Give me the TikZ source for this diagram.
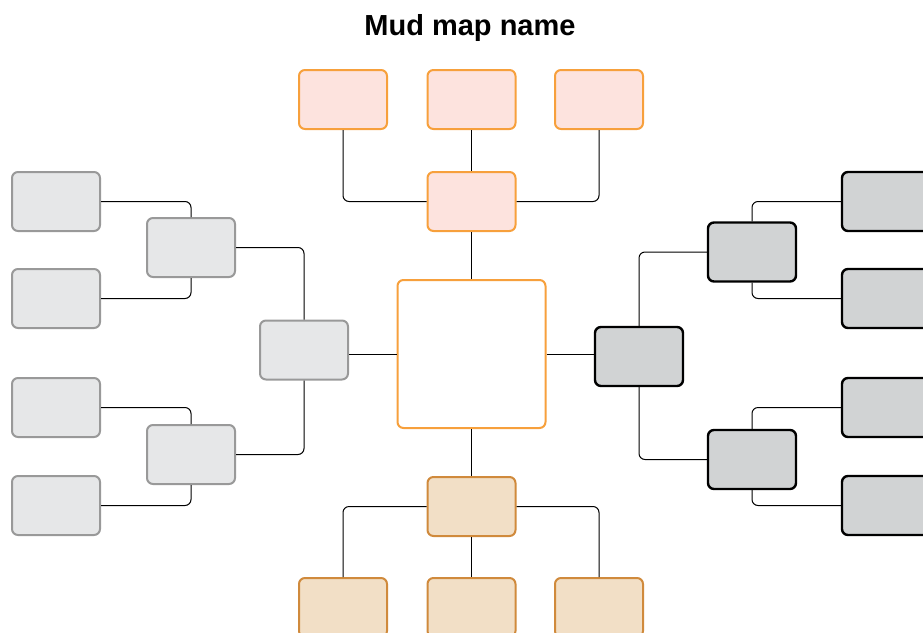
\documentclass[tikz,border=0pt]{standalone}
\usepackage{fontspec}
\setmainfont{Liberation Sans}
\usetikzlibrary{positioning}

\definecolor{peach}{HTML}{FDE3DE}
\definecolor{tan}{HTML}{F2DFC6}
\definecolor{orangeline}{HTML}{F7A03C}
\definecolor{brownline}{HTML}{D08A3C}
\definecolor{lightgrey}{HTML}{E6E7E8}
\definecolor{midgrey}{HTML}{D1D3D4}
\definecolor{greyline}{HTML}{999999}

\begin{document}
\begin{tikzpicture}[
x=1pt, y=-1pt,
box/.style={rectangle, rounded corners=6pt, line width=2pt, minimum width=88pt, minimum height=59pt, inner sep=0pt},
topbox/.style={box, draw=orangeline, fill=peach},
botbox/.style={box, draw=brownline, fill=tan},
leftbox/.style={box, draw=greyline, fill=lightgrey},
rightbox/.style={box, draw=black, fill=midgrey, line width=2.4pt},
link/.style={draw=black, line width=1pt, rounded corners=6pt}
]
\clip (0,0) rectangle (923,632);

\node[font=\bfseries\fontsize{29}{34}\selectfont] (title) at (470,28) {Mud map name};

% centre
\node[box, draw=orangeline, fill=white, minimum width=148pt, minimum height=148pt] (hub) at (471.5,354) {};

% top branch
\node[topbox] (topmid) at (471.5,201.5) {};
\node[topbox] (topa) at (343,99.5) {};
\node[topbox] (topb) at (471.5,99.5) {};
\node[topbox] (topc) at (599,99.5) {};

% bottom branch
\node[botbox] (botmid) at (471.5,506.5) {};
\node[botbox] (bota) at (343,607.5) {};
\node[botbox] (botb) at (471.5,607.5) {};
\node[botbox] (botc) at (599,607.5) {};

% left branch
\node[leftbox] (lroot) at (304,350) {};
\node[leftbox] (lmida) at (191,247.5) {};
\node[leftbox] (lmidb) at (191,454.5) {};
\node[leftbox] (lleafa) at (56,201.5) {};
\node[leftbox] (lleafb) at (56,298.5) {};
\node[leftbox] (lleafc) at (56,407.5) {};
\node[leftbox] (lleafd) at (56,505.5) {};

% right branch
\node[rightbox] (rroot) at (639,356.5) {};
\node[rightbox] (rmida) at (752,252) {};
\node[rightbox] (rmidb) at (752,459.5) {};
\node[rightbox] (rleafa) at (886,201.5) {};
\node[rightbox] (rleafb) at (886,298.5) {};
\node[rightbox] (rleafc) at (886,407.5) {};
\node[rightbox] (rleafd) at (886,505.5) {};

% connectors
\draw[link] (topa.south) |- (topmid.west);
\draw[link] (topc.south) |- (topmid.east);
\draw[link] (topb.south) -- (topmid.north);
\draw[link] (topmid.south) -- (hub.north);

\draw[link] (hub.south) -- (botmid.north);
\draw[link] (botmid.west) -| (bota.north);
\draw[link] (botmid.east) -| (botc.north);
\draw[link] (botmid.south) -- (botb.north);

\draw[link] (lroot.east |- hub.west) -- (hub.west);
\draw[link] (lmida.east) -| (lroot.north);
\draw[link] (lmidb.east) -| (lroot.south);
\draw[link] (lleafa.east) -| (lmida.north);
\draw[link] (lleafb.east) -| (lmida.south);
\draw[link] (lleafc.east) -| (lmidb.north);
\draw[link] (lleafd.east) -| (lmidb.south);

\draw[link] (hub.east) -- (hub.east -| rroot.west);
\draw[link] (rmida.west) -| (rroot.north);
\draw[link] (rmidb.west) -| (rroot.south);
\draw[link] (rmida.north) |- (rleafa.west);
\draw[link] (rmida.south) |- (rleafb.west);
\draw[link] (rmidb.north) |- (rleafc.west);
\draw[link] (rmidb.south) |- (rleafd.west);
\end{tikzpicture}
\end{document}
